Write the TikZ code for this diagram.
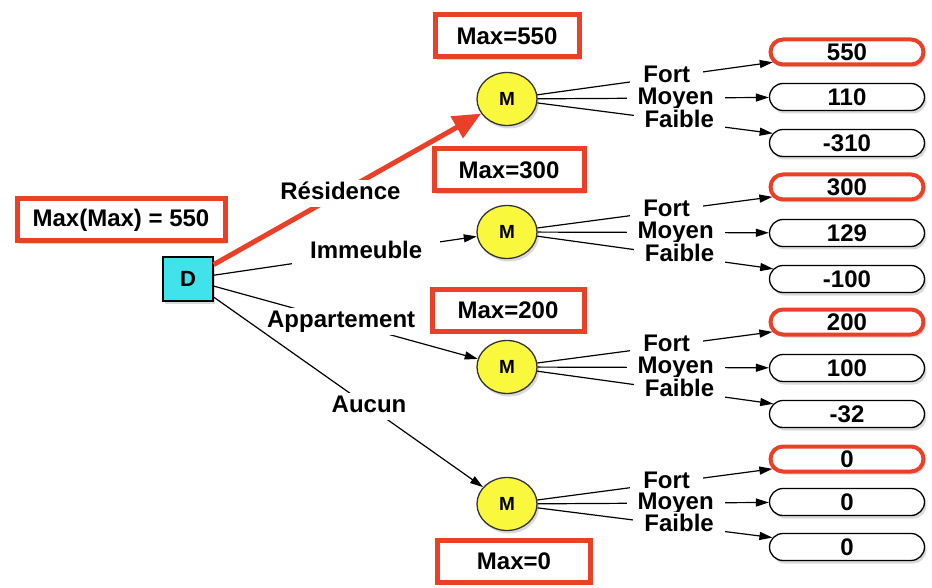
\documentclass[tikz,border=0pt]{standalone}
\usepackage{fontspec}
\setmainfont{Liberation Sans}
\usetikzlibrary{shapes.misc,shapes.geometric,shadows,arrows.meta}
\definecolor{myred}{RGB}{234,64,40}
\definecolor{mycyan}{RGB}{64,226,236}
\definecolor{myyellow}{RGB}{250,248,60}
\begin{document}
\begin{tikzpicture}[x=1pt,y=-1pt,
  shad/.style={drop shadow={opacity=0.3,shadow xshift=2pt,shadow yshift=-3pt}},
  maxbox/.style={draw=myred,line width=5pt,fill=white,minimum height=42pt,
    font=\fontsize{24}{28}\selectfont\bfseries,inner sep=0pt,shad},
  leaf/.style={rounded rectangle,draw=black,line width=1.3pt,fill=white,
    minimum width=155pt,minimum height=27pt,inner sep=0pt,
    font=\fontsize{24}{28}\selectfont\bfseries,shad},
  bestleaf/.style={leaf,draw=myred,line width=4pt,minimum width=153pt,minimum height=25pt},
  mnode/.style={ellipse,draw=black!80,line width=1.3pt,fill=myyellow,
    minimum width=60pt,minimum height=53pt,inner sep=0pt,
    font=\fontsize{19}{22}\selectfont\bfseries,shad},
  dnode/.style={rectangle,draw=black,line width=1.2pt,fill=mycyan,
    minimum width=50pt,minimum height=44pt,inner sep=0pt,
    font=\fontsize{22}{26}\selectfont\bfseries,shad},
  lab/.style={fill=white,inner xsep=4pt,inner ysep=2.5pt,text height=17pt,text depth=5pt,
    font=\fontsize{24}{28}\selectfont\bfseries},
  arr/.style={line width=1.2pt,-{Triangle[length=13pt,width=8pt]}},
  plain/.style={line width=1.2pt},
  redarr/.style={draw=myred,line width=5pt,-{Triangle[length=28pt,width=24pt]}}
]
\useasboundingbox (0,0) rectangle (932,588);

% decision node and its value
\node[maxbox,minimum width=208pt] (mm) at (121,220) {Max(Max) = 550};
\node[dnode] (D) at (188,279) {D};

% chance nodes
\node[mnode] (M1) at (507,99) {M};
\node[mnode] (M2) at (507,232) {M};
\node[mnode] (M3) at (507,367) {M};
\node[mnode] (M4) at (507,504) {M};

% max boxes
\node[maxbox,minimum width=144pt] (x1) at (507,36) {Max=550};
\node[maxbox,minimum width=150pt] (x2) at (509,170) {Max=300};
\node[maxbox,minimum width=152pt] (x3) at (508,310) {Max=200};
\node[maxbox,minimum width=153pt] (x4) at (514,561) {Max=0};

% leaves
\node[bestleaf] (L11) at (847,52) {550};
\node[leaf] (L12) at (847,97) {110};
\node[leaf] (L13) at (847,143) {-310};
\node[bestleaf] (L21) at (847,187) {300};
\node[leaf] (L22) at (847,233) {129};
\node[leaf] (L23) at (847,279) {-100};
\node[bestleaf] (L31) at (847,322) {200};
\node[leaf] (L32) at (847,368) {100};
\node[leaf] (L33) at (847,414) {-32};
\node[bestleaf] (L41) at (847,459) {0};
\node[leaf] (L42) at (847,502) {0};
\node[leaf] (L43) at (847,547) {0};

% decision edges
\draw[redarr] (D) -- node[lab,pos=0.474]{Résidence} (M1);
\draw[arr] (D) -- node[lab,pos=0.58,inner xsep=18pt]{Immeuble} (M2);
\draw[arr] (D) -- node[lab,pos=0.483]{Appartement} (M3);
\draw[arr] (D) -- node[lab,pos=0.577]{Aucun} (M4);

% chance edges
\foreach \g in {1,2,3,4}{
  \draw[arr] (M\g) -- node[lab,pos=0.55,inner xsep=13pt]{Fort} (L\g1);
  \draw[arr] (M\g) -- node[lab,pos=0.597,inner xsep=11pt]{Moyen} (L\g2);
  \draw[arr] (M\g) -- node[lab,pos=0.603,inner xsep=11pt]{Faible} (L\g3);
}
\end{tikzpicture}
\end{document}
